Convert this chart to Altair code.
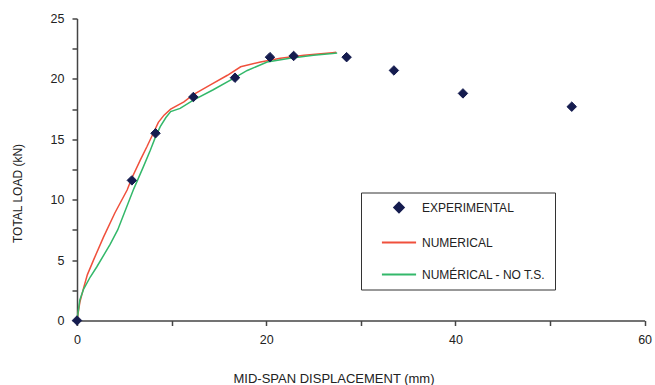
import altair as alt
import pandas as pd

# ---- data ----
SERIES = ["EXPERIMENTAL", "NUMERICAL", "NUMÉRICAL - NO T.S."]
COLORS = ["#151c4f", "#f0503c", "#33b86a"]

exp_x = [0, 5.8, 8.3, 12.3, 16.7, 20.4, 22.9, 28.5, 33.5, 40.8, 52.3]
exp_y = [0, 11.6, 15.5, 18.5, 20.1, 21.8, 21.9, 21.8, 20.7, 18.8, 17.7]

red_x = [0, 0.3, 0.7, 1.1, 1.8, 2.8, 4.0, 5.3, 5.8, 6.7, 7.4, 8.0, 8.6, 9.2, 9.9,
         11.3, 12.3, 14.1, 15.9, 17.3, 19.4, 21.5, 24.0, 27.0, 27.4]
red_y = [0, 1.5, 2.7, 3.8, 5.1, 6.9, 8.9, 10.8, 11.8, 13.3, 14.4, 15.4, 16.4, 17.0, 17.5,
         18.1, 18.7, 19.5, 20.3, 21.0, 21.4, 21.7, 21.95, 22.17, 22.2]

green_x = [0, 0.3, 0.7, 1.4, 2.1, 3.5, 4.3, 5.0, 6.0, 7.0, 7.75, 8.3, 8.8, 9.4, 9.9,
           10.9, 12.3, 14.4, 16.55, 18.0, 20.1, 22.5, 25.0, 27.0, 27.5]
green_y = [0, 1.7, 2.6, 3.6, 4.45, 6.3, 7.5, 8.9, 10.9, 12.7, 14.1, 15.2, 16.05, 16.8, 17.3,
           17.56, 18.25, 19.1, 20.05, 20.7, 21.4, 21.7, 21.95, 22.1, 22.15]

x_ticks = [0, 10, 20, 30, 40, 50, 60]
y_ticks = [0, 2.5, 5, 7.5, 10, 12.5, 15, 17.5, 20, 22.5, 25]

lines_df = pd.DataFrame({
    "x": red_x + green_x,
    "y": red_y + green_y,
    "series": [SERIES[1]] * len(red_x) + [SERIES[2]] * len(green_x),
    "order": list(range(len(red_x))) + list(range(len(green_x))),
})
pts_df = pd.DataFrame({"x": exp_x, "y": exp_y, "series": [SERIES[0]] * len(exp_x)})

FONT = "Liberation Sans"
DIAMOND = "M0,-1L1,0L0,1L-1,0Z"
LINE = "M-3.6,0L3.6,0"

legend = alt.Legend(
    title=None, orient="none", legendX=284, legendY=174,
    strokeColor="#333333", padding=9, rowPadding=20,
    symbolOffset=23, labelOffset=17, symbolSize=90, symbolStrokeWidth=2,
    labelFont=FONT, labelFontSize=12, labelColor="#222222",
    labelExpr="datum.label + '   '",
)

fill_scale = alt.Scale(domain=SERIES, range=COLORS)

x_enc = alt.X("x:Q", scale=alt.Scale(domain=[0, 60], nice=False),
              axis=alt.Axis(values=x_ticks, labelExpr="datum.value % 20 == 0 ? datum.label : ''",
                            labelFlush=False, labelOverlap=False,
                            title="MID-SPAN DISPLACEMENT  (mm)", titleX=156, titleY=62,
                            titleAlign="left", titleBaseline="alphabetic", titleFontSize=13))
y_enc = alt.Y("y:Q", scale=alt.Scale(domain=[0, 25], nice=False),
              axis=alt.Axis(values=y_ticks, labelExpr="datum.value % 5 == 0 ? datum.label : ''",
                            labelFlush=False, labelOverlap=False,
                            title="TOTAL LOAD  (kN)", titleX=-59.5, titleY=174.5,
                            titleAlign="center", titleBaseline="middle", titleAngle=-90))

lines = alt.Chart(lines_df).mark_line(strokeWidth=1.5).encode(
    x=x_enc, y=y_enc,
    stroke=alt.Stroke("series:N", scale=fill_scale, legend=legend),
    detail="series:N",
    order="order:Q",
)

points = alt.Chart(pts_df).mark_point(filled=True, size=90, strokeWidth=1, opacity=1).encode(
    x=x_enc, y=y_enc,
    fill=alt.Fill("series:N", scale=fill_scale, legend=legend),
    stroke=alt.Stroke("series:N", scale=fill_scale, legend=legend),
    shape=alt.Shape("series:N", scale=alt.Scale(domain=SERIES, range=[DIAMOND, LINE, LINE]), legend=legend),
)

chart = alt.layer(lines, points).properties(
    width=567.6, height=302,
    autosize=alt.AutoSizeParams(type="none"),
    padding={"left": 77, "top": 18.5, "right": 10.4, "bottom": 64.5},
    background="white",
).configure_view(stroke=None).configure_axis(
    grid=False, domainColor="#444444", domainWidth=1.5, tickColor="#444444", tickWidth=1.5,
    tickSize=5, labelFont=FONT, labelFontSize=12.5, labelColor="#222222", labelPadding=8,
    titleFont=FONT, titleFontSize=12, titleFontWeight="normal", titleColor="#222222",
).configure_axisX(labelAngle=0)

chart.save("out.html", embed_options={"renderer": "svg", "actions": False})
